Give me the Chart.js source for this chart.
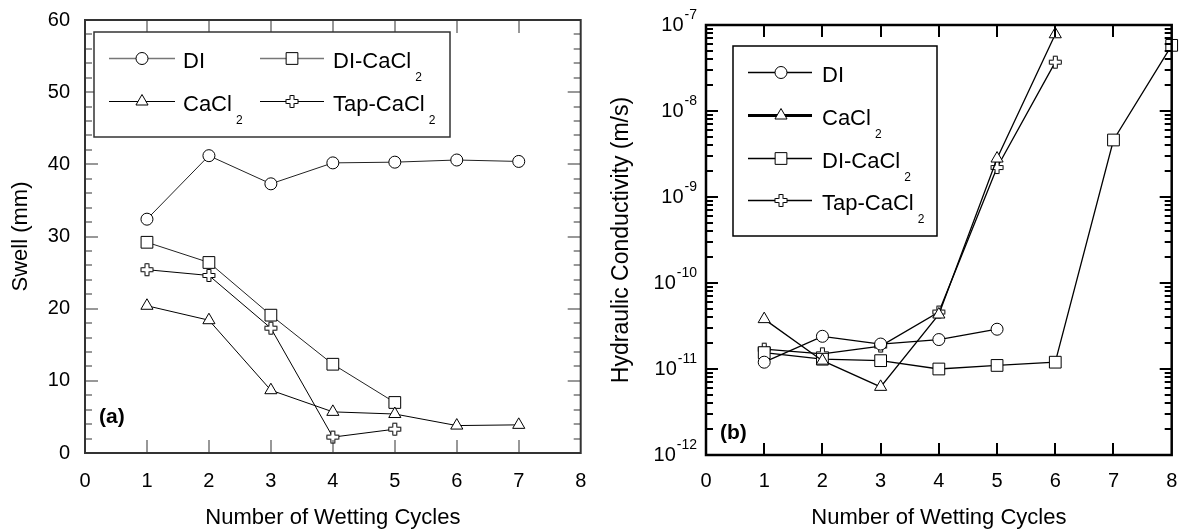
<!DOCTYPE html>
<html>
<head>
<meta charset="utf-8">
<title>Swell and hydraulic conductivity vs. wetting cycles</title>
<script src="https://cdn.jsdelivr.net/npm/chart.js@4.4.1/dist/chart.umd.min.js"></script>
<style>
  html, body { margin: 0; padding: 0; background: #fff; }
  #wrap { position: relative; width: 1181px; height: 532px; }
  canvas { position: absolute; top: 0; }
  #swellChart { left: 0; }
  #kChart { left: 590px; }
</style>
</head>
<body>
<div id="wrap">
  <canvas id="swellChart" width="590" height="532"></canvas>
  <canvas id="kChart" width="591" height="532"></canvas>
</div>
<script>
// panel (a): swell in mm
const cycles = [1, 2, 3, 4, 5, 6, 7, 8];
const swellDI = [32.4, 41.2, 37.3, 40.2, 40.3, 40.6, 40.4];
const swellCaCl2 = [20.4, 18.4, 8.7, 5.7, 5.4, 3.8, 3.9];
const swellDICaCl2 = [29.2, 26.4, 19.1, 12.3, 7.0];
const swellTapCaCl2 = [25.4, 24.6, 17.3, 2.2, 3.3];

// panel (b): hydraulic conductivity in m/s
const kDI = [1.2e-11, 2.4e-11, 1.95e-11, 2.2e-11, 2.9e-11];
const kCaCl2 = [3.8e-11, 1.25e-11, 6.2e-12, 4.3e-11, 2.8e-9, 7.8e-8];
const kDICaCl2 = [1.55e-11, 1.3e-11, 1.25e-11, 1.0e-11, 1.1e-11, 1.2e-11, 4.6e-9, 5.8e-8];
const kTapCaCl2 = [1.7e-11, 1.5e-11, 1.85e-11, 4.6e-11, 2.2e-9, 3.7e-8];

const xTicks = [0, 1, 2, 3, 4, 5, 6, 7, 8];
const swellTicks = [0, 10, 20, 30, 40, 50, 60];
const kDecades = [-12, -11, -10, -9, -8, -7];

const FONT = "'Liberation Sans', Arial, Helvetica, sans-serif";

// white filled greek cross, the Tap-CaCl2 marker
function makePlus() {
  const c = document.createElement('canvas');
  c.width = 15; c.height = 15;
  const g = c.getContext('2d');
  const m = 7.5, h = 6, a = 2;
  g.beginPath();
  g.moveTo(m - a, m - h); g.lineTo(m + a, m - h); g.lineTo(m + a, m - a);
  g.lineTo(m + h, m - a); g.lineTo(m + h, m + a); g.lineTo(m + a, m + a);
  g.lineTo(m + a, m + h); g.lineTo(m - a, m + h); g.lineTo(m - a, m + a);
  g.lineTo(m - h, m + a); g.lineTo(m - h, m - a); g.lineTo(m - a, m - a);
  g.closePath();
  g.fillStyle = '#fff';
  g.fill();
  g.lineWidth = 1;
  g.strokeStyle = '#000';
  g.stroke();
  return c;
}
const plusMarker = makePlus();

function series(label, ys, style, radius, lineWidth, color) {
  return {
    label,
    data: ys.map((y, i) => ({ x: cycles[i], y })),
    borderColor: color,
    borderWidth: lineWidth,
    pointStyle: style,
    pointRadius: radius,
    pointBorderColor: '#000',
    pointBackgroundColor: '#fff',
    pointBorderWidth: 1,
    tension: 0,
    fill: false,
    clip: false
  };
}

function drawChem(ctx, text, x, baseline) {
  const parts = text.split('₂');
  ctx.font = '22px ' + FONT;
  ctx.textAlign = 'left';
  ctx.textBaseline = 'alphabetic';
  ctx.fillText(parts[0], x, baseline);
  if (parts.length > 1) {
    const w = ctx.measureText(parts[0]).width;
    ctx.font = '12px ' + FONT;
    ctx.fillText('2', x + w + 4, baseline + 13);
  }
}

// frame with inward ticks on all four sides, boxed legend, panel letter
function makeDecor(o) {
  return {
    id: 'decor',
    afterDatasetsDraw(chart) {
      const ctx = chart.ctx;
      const a = chart.chartArea;
      const xs = chart.scales.x;
      const ys = chart.scales.y;
      const w = o.tickWidth;
      ctx.save();
      ctx.fillStyle = o.color;
      o.xMajor.forEach(v => {
        const px = Math.round(xs.getPixelForValue(v));
        if (px < a.left + 2 || px > a.right - 2) return;
        ctx.fillRect(px - w / 2, a.bottom - o.majorLen, w, o.majorLen);
        ctx.fillRect(px - w / 2, a.top, w, o.majorLen);
      });
      const yTicks = (vals, len) => {
        vals.forEach(v => {
          const py = Math.round(ys.getPixelForValue(v));
          if (py < a.top + 2 || py > a.bottom - 2) return;
          ctx.fillRect(a.left, py - w / 2, len, w);
          ctx.fillRect(a.right - len, py - w / 2, len, w);
        });
      };
      yTicks(o.yMajor, o.majorLen);
      yTicks(o.yMinor, o.minorLen);

      ctx.strokeStyle = o.color;
      ctx.lineWidth = o.frameWidth;
      ctx.strokeRect(a.left, a.top, a.right - a.left, a.bottom - a.top);

      const b = o.box;
      ctx.fillStyle = '#fff';
      ctx.fillRect(b.x, b.y, b.w, b.h);
      ctx.lineWidth = o.boxWidth;
      ctx.strokeStyle = o.boxColor;
      ctx.strokeRect(b.x, b.y, b.w, b.h);
      o.items.forEach(it => {
        const ds = chart.data.datasets[it.ds];
        ctx.beginPath();
        ctx.strokeStyle = it.color;
        ctx.lineWidth = it.width;
        ctx.moveTo(it.x0, it.y + 0.5);
        ctx.lineTo(it.x1, it.y + 0.5);
        ctx.stroke();
        ctx.fillStyle = '#fff';
        ctx.strokeStyle = '#000';
        ctx.lineWidth = 1;
        Chart.helpers.drawPoint(ctx, {
          pointStyle: ds.pointStyle, radius: ds.pointRadius, borderWidth: 1, rotation: 0
        }, it.mx, it.y + 0.5);
        ctx.fillStyle = '#000';
        drawChem(ctx, ds.label, it.tx, it.y + 9.5);
      });

      ctx.fillStyle = '#000';
      ctx.font = 'bold 21px ' + FONT;
      ctx.textAlign = 'left';
      ctx.textBaseline = 'middle';
      ctx.fillText(o.panel.text, o.panel.x, o.panel.y);

      // powers of ten on the log axis
      if (o.logLabels) {
        o.logLabels.forEach(e => {
          const py = ys.getPixelForValue(Math.pow(10, e));
          const sup = String(e);
          ctx.font = '14px ' + FONT;
          const ws = ctx.measureText(sup).width;
          ctx.textAlign = 'left';
          ctx.fillText(sup, o.logRight - ws, py - 10);
          ctx.font = '20px ' + FONT;
          ctx.textAlign = 'right';
          ctx.fillText('10', o.logRight - ws - 1, py);
        });
      }
      ctx.restore();
    }
  };
}

// keep the plot box where the layout padding puts it
function noLabelPadding(s) {
  s.paddingLeft = 0;
  s.paddingRight = 0;
  s.paddingTop = 0;
  s.paddingBottom = 0;
}

const tickFont = { family: FONT, size: 20 };

function xScale(height, pad) {
  return {
    type: 'linear', min: 0, max: 8,
    afterFit: s => { s.height = height; noLabelPadding(s); },
    grid: { display: false, drawTicks: false },
    border: { display: false },
    ticks: { stepSize: 1, padding: pad, color: '#000', font: tickFont, maxRotation: 0, autoSkip: false },
    title: {
      display: true, text: 'Number of Wetting Cycles', color: '#000',
      font: { family: FONT, size: 22 }, padding: { top: 0, bottom: 1 }
    }
  };
}

const swellMinor = [];
for (let v = 2; v < 60; v += 2) if (v % 10) swellMinor.push(v);

new Chart(document.getElementById('swellChart'), {
  type: 'line',
  data: {
    datasets: [
      series('DI', swellDI, 'circle', 6, 1, '#222'),
      series('CaCl₂', swellCaCl2, 'triangle', 7, 1, '#000'),
      series('DI-CaCl₂', swellDICaCl2, 'rect', 8.3, 1, '#222'),
      series('Tap-CaCl₂', swellTapCaCl2, plusMarker, 6, 1, '#000')
    ]
  },
  options: {
    responsive: false,
    animation: false,
    devicePixelRatio: 1,
    events: [],
    layout: { padding: { top: 20, right: 7, left: 0, bottom: 0 } },
    plugins: { legend: { display: false }, tooltip: { enabled: false } },
    scales: {
      x: xScale(79, 16),
      y: {
        type: 'linear', min: 0, max: 60,
        afterFit: s => { s.width = 85; noLabelPadding(s); },
        grid: { display: false, drawTicks: false },
        border: { display: false },
        ticks: { stepSize: 10, padding: 15, color: '#000', font: tickFont },
        title: {
          display: true, text: 'Swell (mm)', color: '#000',
          font: { family: FONT, size: 22 }, padding: { top: 8, bottom: 0 }
        }
      }
    }
  },
  plugins: [makeDecor({
    color: '#333', tickWidth: 1, frameWidth: 2, majorLen: 13, minorLen: 7,
    xMajor: xTicks, yMajor: swellTicks, yMinor: swellMinor,
    box: { x: 94, y: 32, w: 356, h: 105 }, boxWidth: 1.5, boxColor: '#333',
    items: [
      { ds: 0, x0: 109, x1: 175, mx: 142, tx: 183, y: 58, color: '#777', width: 1.5 },
      { ds: 2, x0: 260, x1: 324, mx: 292, tx: 333, y: 58, color: '#777', width: 1.5 },
      { ds: 1, x0: 109, x1: 175, mx: 142, tx: 183, y: 101, color: '#000', width: 1 },
      { ds: 3, x0: 260, x1: 324, mx: 292, tx: 333, y: 101, color: '#000', width: 1 }
    ],
    panel: { text: '(a)', x: 99, y: 417 }
  })]
});

const kMinor = [];
kDecades.slice(0, -1).forEach(e => {
  for (let m = 2; m <= 9; m++) kMinor.push(m * Math.pow(10, e));
});

new Chart(document.getElementById('kChart'), {
  type: 'line',
  data: {
    datasets: [
      series('DI', kDI, 'circle', 6, 1.3, '#000'),
      series('CaCl₂', kCaCl2, 'triangle', 7, 1.3, '#000'),
      series('DI-CaCl₂', kDICaCl2, 'rect', 8.3, 1.3, '#000'),
      series('Tap-CaCl₂', kTapCaCl2, plusMarker, 6, 1.3, '#000')
    ]
  },
  options: {
    responsive: false,
    animation: false,
    devicePixelRatio: 1,
    events: [],
    layout: { padding: { top: 25, right: 9, left: 0, bottom: 0 } },
    plugins: { legend: { display: false }, tooltip: { enabled: false } },
    scales: {
      x: xScale(77, 14),
      y: {
        type: 'logarithmic', min: 1e-12, max: 1e-7,
        afterFit: s => { s.width = 116; noLabelPadding(s); },
        grid: { display: false, drawTicks: false },
        border: { display: false },
        ticks: { display: false },
        title: {
          display: true, text: 'Hydraulic Conductivity (m/s)', color: '#000',
          font: { family: FONT, size: 23 }, padding: { top: 18, bottom: 0 }
        }
      }
    }
  },
  plugins: [makeDecor({
    color: '#000', tickWidth: 2, frameWidth: 2.5, majorLen: 12, minorLen: 7,
    xMajor: xTicks, yMajor: kDecades.map(e => Math.pow(10, e)), yMinor: kMinor,
    box: { x: 143, y: 46, w: 204, h: 190 }, boxWidth: 1.5, boxColor: '#000',
    items: [
      { ds: 0, x0: 158, x1: 222, mx: 191, tx: 232, y: 72, color: '#000', width: 1.3 },
      { ds: 1, x0: 158, x1: 222, mx: 191, tx: 232, y: 115, color: '#000', width: 3 },
      { ds: 2, x0: 158, x1: 222, mx: 191, tx: 232, y: 158, color: '#000', width: 1.3 },
      { ds: 3, x0: 158, x1: 222, mx: 191, tx: 232, y: 200, color: '#000', width: 1.3 }
    ],
    panel: { text: '(b)', x: 130, y: 433 },
    logLabels: kDecades, logRight: 107
  })]
});
</script>
</body>
</html>
